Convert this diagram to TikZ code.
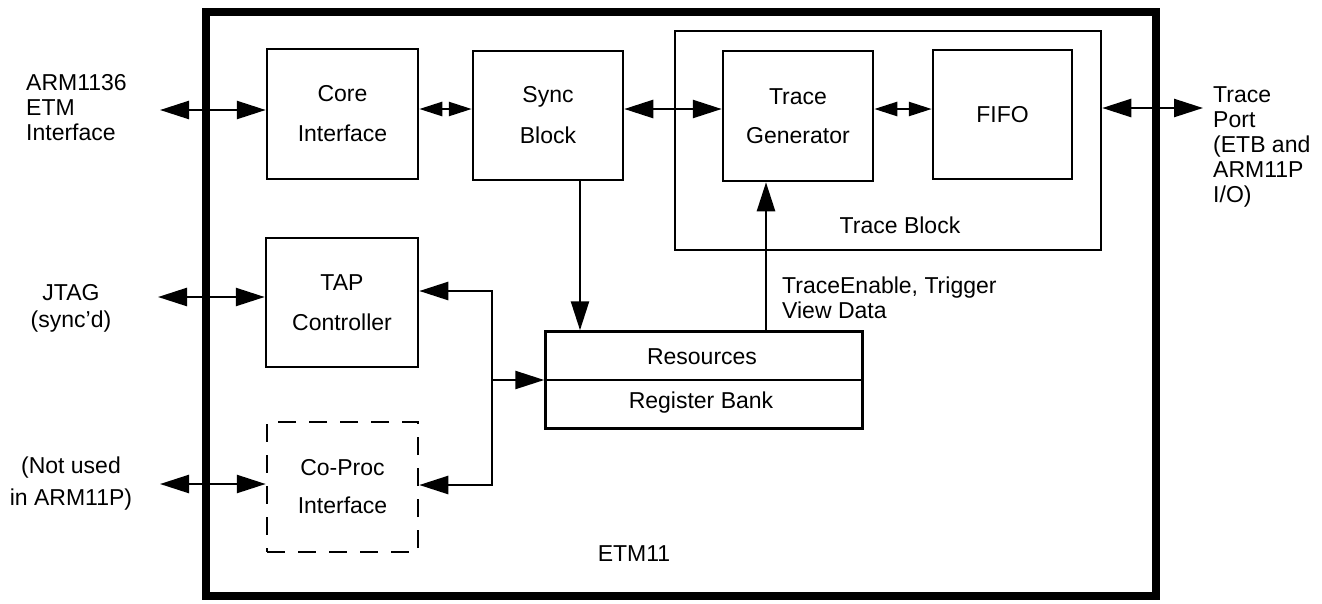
\documentclass[tikz,border=0pt]{standalone}
\usepackage{fontspec}
\setmainfont{Liberation Sans}
\usetikzlibrary{arrows.meta}
\begin{document}
\begin{tikzpicture}[x=1pt,y=-1pt,
  every node/.style={font=\fontsize{23}{25}\selectfont},
  box/.style={draw,line width=2.5pt,inner sep=0pt,align=center},
  conn/.style={line width=2.5pt},
  bigarr/.style={conn,{Triangle[length=29pt,width=18pt]}-{Triangle[length=29pt,width=18pt]}},
  smallarr/.style={conn,{Triangle[length=23pt,width=14pt]}-{Triangle[length=23pt,width=14pt]}},
  onearr/.style={conn,-{Triangle[length=29pt,width=18pt]}},
  lbl/.style={inner sep=0pt}
]
\useasboundingbox (0,0) rectangle (1322,603);
% outer ETM11 box
\draw[line width=8.5pt] (206,12) rectangle (1156,596);
\node[lbl] (etmlbl) at (634,554) {ETM11};
% trace block
\node[box,minimum width=426pt,minimum height=219pt] (tb) at (888,140.5) {};
\node[lbl] (tblbl) at (900,225) {Trace Block};
% blocks
\node[box,minimum width=151pt,minimum height=130pt] (core) at (342.5,114) {Core\\[15pt]Interface};
\node[box,minimum width=150pt,minimum height=129pt] (sync) at (548,115.5) {Sync\\[16pt]Block};
\node[box,minimum width=150pt,minimum height=130pt] (tg) at (798,116) {Trace\\[14pt]Generator};
\node[box,minimum width=139pt,minimum height=129pt] (fifo) at (1002.5,114.5) {FIFO};
\node[box,minimum width=152pt,minimum height=129pt] (tap) at (342,302.5) {TAP\\[15pt]Controller};
\node[box,dashed,dash pattern=on 18pt off 13pt,minimum width=151pt,minimum height=130pt] (cop) at (342.5,487) {Co-Proc\\[13pt]Interface};
\node[box,minimum width=317pt,minimum height=97pt] (res) at (704,380) {};
\draw[line width=2.5pt] (res.west) -- (res.east);
\node[lbl] (restxt) at (702,357) {Resources};
\node[lbl] (regtxt) at (701,403) {Register Bank};
% external labels
\node[lbl,align=left,anchor=west] (arm) at (26,108) {ARM1136\\ETM\\Interface};
\node[lbl,align=left,anchor=west] (tport) at (1213,147) {Trace\\Port\\(ETB and\\ARM11P\\I/O)};
\node[lbl,align=center] (jtag) at (71,308.5) {JTAG\\[2pt](sync’d)};
\node[lbl,align=center] (notused) at (71,484) {(Not used\\[7pt]in ARM11P)};
\node[lbl,align=left,anchor=west] (telbl) at (782,297.5) {TraceEnable, Trigger\\View Data};
% coordinates
\coordinate (r1) at (0,109);
\coordinate (armend) at (160,110);
\coordinate (tpend) at (1203,108);
\coordinate (jtagend) at (158,297);
\coordinate (nuend) at (160,484);
\coordinate (c580) at (580,0);
\coordinate (c766) at (766,0);
\coordinate (bustop) at (492,291);
\coordinate (busbot) at (492,485);
\coordinate (busmid) at (492,380);
% connectors
\draw[bigarr] (armend) -- (core.west |- armend);
\draw[smallarr] (core.east |- r1) -- (sync.west |- r1);
\draw[bigarr] (sync.east |- r1) -- (tg.west |- r1);
\draw[smallarr] (tg.east |- r1) -- (fifo.west |- r1);
\draw[bigarr] (tb.east |- tpend) -- (tpend);
\draw[onearr] (sync.south -| c580) -- (res.north -| c580);
\draw[onearr] (res.north -| c766) -- (tg.south -| c766);
\draw[bigarr] (jtagend) -- (tap.west |- jtagend);
\draw[bigarr] (nuend) -- (cop.west |- nuend);
\draw[bigarr] (tap.east |- bustop) -- (bustop) -- (busbot) -- (cop.east |- busbot);
\draw[onearr] (busmid) -- (res.west);
\end{tikzpicture}
\end{document}
